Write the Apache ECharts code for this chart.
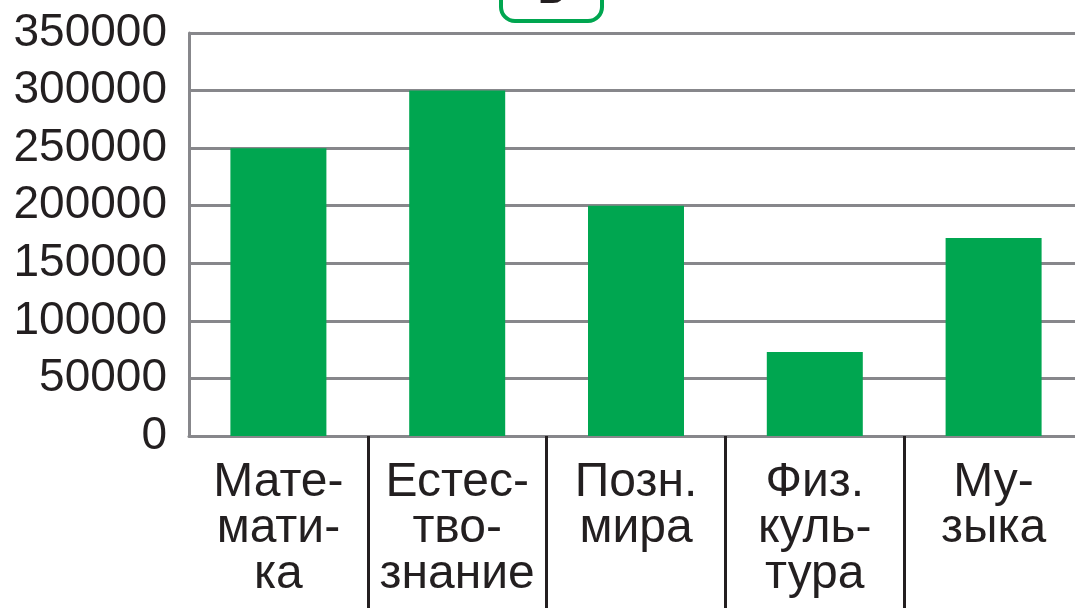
<!DOCTYPE html>
<html><head><meta charset="utf-8">
<script src="https://cdn.jsdelivr.net/npm/echarts@6/dist/echarts.min.js"></script>
<style>html,body{margin:0;padding:0;background:#fff}#c{width:1075px;height:608px}</style>
</head><body><div id="c"></div>
<script>
const categories = ['Мате-\nмати-\nка', 'Естес-\nтво-\nзнание', 'Позн.\nмира', 'Физ.\nкуль-\nтура', 'Му-\nзыка'];
const values = [250000, 300000, 200000, 73000, 172000];
const yTicks = [0, 50000, 100000, 150000, 200000, 250000, 300000, 350000];
const panelLetter = 'Б';

const chart = echarts.init(document.getElementById('c'));
const font = 'Liberation Sans, Arial, Helvetica, sans-serif';
chart.setOption({
  animation: false,
  title: {
    text: panelLetter, left: 501, top: -39,
    padding: [8, 36, 8, 36],
    borderColor: '#00a650', borderWidth: 4, borderRadius: 14,
    textStyle: { fontSize: 44, lineHeight: 44, fontWeight: 'normal', color: '#231f20', fontFamily: font }
  },
  grid: { left: 189, width: 894, top: 33, height: 403, containLabel: false, outerBoundsMode: 'none' },
  xAxis: {
    type: 'category', data: categories,
    axisLine: { lineStyle: { color: '#87878b', width: 3 } },
    axisTick: { show: true, length: 172, interval: function (i) { return i !== 0; }, lineStyle: { color: '#231f20', width: 3 } },
    axisLabel: { interval: 0, margin: 24, fontSize: 48, lineHeight: 46, color: '#231f20', fontFamily: font }
  },
  yAxis: {
    type: 'value', min: yTicks[0], max: yTicks[yTicks.length - 1], interval: yTicks[1] - yTicks[0],
    axisLine: { show: true, lineStyle: { color: '#87878b', width: 3 } },
    axisTick: { show: false },
    splitLine: { lineStyle: { color: '#87878b', width: 3 } },
    axisLabel: { margin: 22, fontSize: 46, color: '#231f20', fontFamily: font, formatter: function (v) { return String(v); } }
  },
  series: [{
    type: 'bar', data: values, barWidth: 96,
    itemStyle: { color: '#00a650' }
  }]
});
</script></body></html>
